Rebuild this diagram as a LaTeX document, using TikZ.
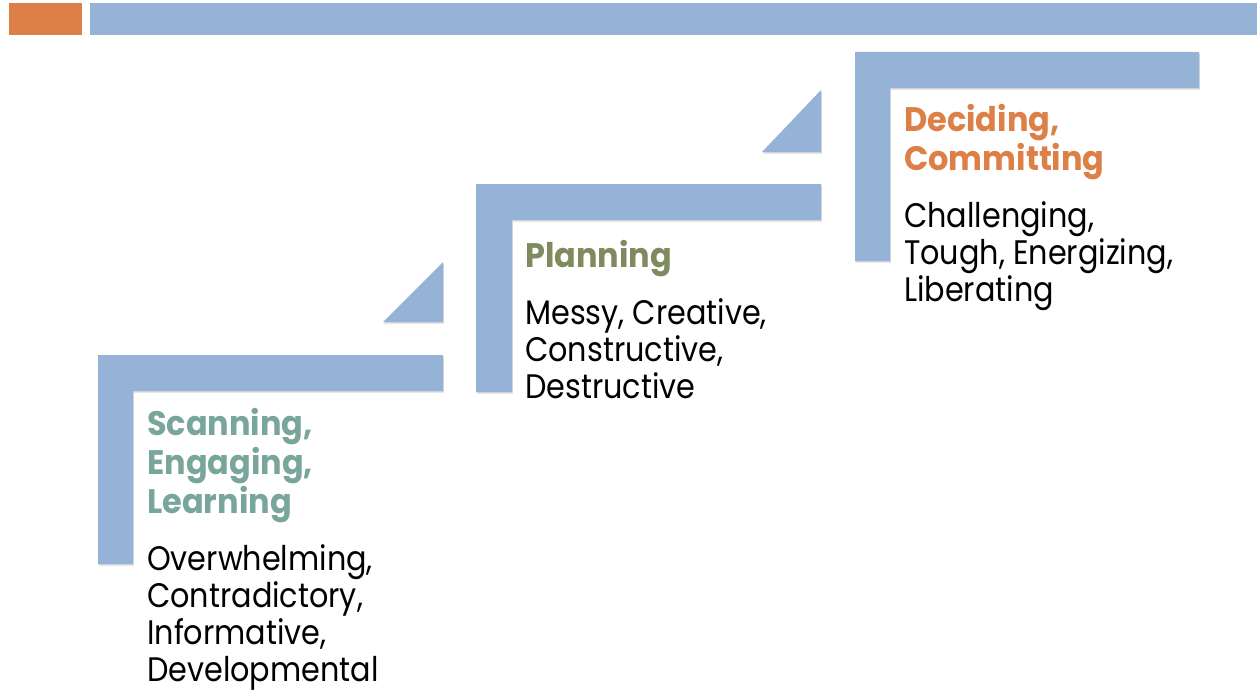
\documentclass[tikz,border=0pt]{standalone}
\usepackage{fontspec}
\newfontfamily\headfont{Poppins}[FakeStretch=0.94]
\newfontfamily\bodyfont{Poppins}[FakeStretch=0.89]
\usepackage{tikz}
\usetikzlibrary{positioning,shadows}
\definecolor{stepblue}{HTML}{95B3D7}
\definecolor{hdorange}{HTML}{DD8047}
\definecolor{scanteal}{HTML}{79A69B}
\definecolor{planolive}{HTML}{7F8A5E}

\begin{document}
\begin{tikzpicture}[x=1pt, y=-1pt,
  bar/.style={fill=stepblue, drop shadow={shadow xshift=0.8pt, shadow yshift=-1.6pt, opacity=.3}},
  ttl/.style={font=\headfont\bfseries\fontsize{34}{39}\selectfont, align=left, inner sep=0pt, anchor=base west},
  txt/.style={font=\bodyfont\fontsize{34}{37}\selectfont, align=left, inner sep=0pt}]
\useasboundingbox (0,0) rectangle (1257,693);
% header strip
\fill[hdorange] (9,3) rectangle (82,35);
\fill[stepblue] (90,3) rectangle (1257,35);
% steps and small wedges
\path[bar] (98,355) -- (443,355) -- (443,391) -- (133,391) -- (133,564) -- (98,564) -- cycle;
\path[bar] (476,184) -- (821,184) -- (821,220) -- (512,220) -- (512,392) -- (476,392) -- cycle;
\path[bar] (855,52) -- (1199,52) -- (1199,88) -- (890,88) -- (890,261) -- (855,261) -- cycle;
\path[bar] (443,262) -- (443,322) -- (383,322) -- cycle;
\path[bar] (821,90) -- (821,152) -- (762,152) -- cycle;
% labels (base = last line)
\node[ttl, text=scanteal] (scan) at (147,513) {Scanning,\\Engaging,\\Learning};
\node[txt, below right=22pt and 0pt of scan.south west] (scanx) {Overwhelming,\\Contradictory,\\Informative,\\Developmental};
\node[ttl, text=planolive] (plan) at (525,267) {Planning};
\node[txt, below right=22pt and 0pt of plan.south west] (planx) {Messy, Creative,\\Constructive,\\Destructive};
\node[ttl, text=hdorange] (dec) at (904,170) {Deciding,\\Committing};
\node[txt, below right=22pt and 0pt of dec.south west] (decx) {Challenging,\\Tough, Energizing,\\Liberating};
\end{tikzpicture}
\end{document}
